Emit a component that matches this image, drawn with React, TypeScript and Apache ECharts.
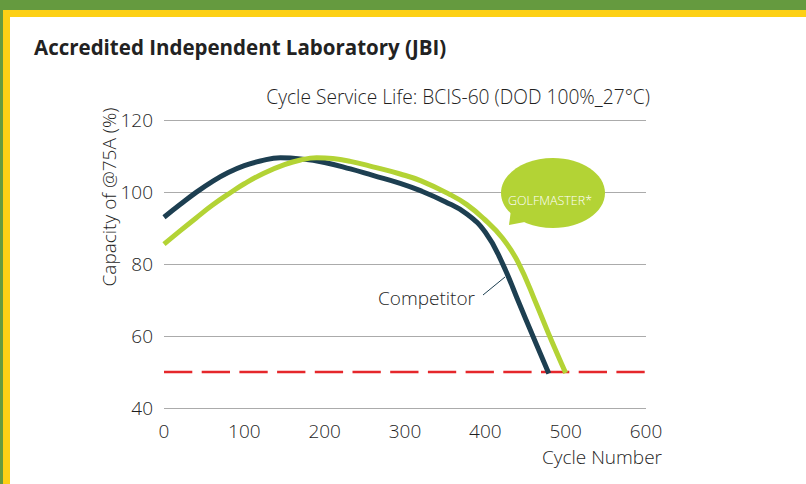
import React, { useEffect, useRef } from "react";
import * as echarts from "echarts";

const xTicks = [0, 100, 200, 300, 400, 500, 600];
const yTicks = [40, 60, 80, 100, 120];

const competitorX = [0, 20, 40, 60, 80, 100, 120, 145, 170, 200, 232, 260, 294, 320, 350, 377, 400, 420, 443, 458, 479];
const competitorY = [93, 96.5, 99.9, 102.9, 105.4, 107.3, 108.6, 109.5, 109.2, 108.2, 106.4, 104.6, 102.4, 100.3, 97.3, 93.9, 88.8, 80.8, 68.6, 60.6, 49.6];

const golfX = [0, 20, 40, 60, 84, 100, 125, 150, 170, 190, 210, 232, 260, 294, 320, 356, 377, 398, 421, 441, 464, 479, 500];
const golfY = [85.5, 89.2, 92.8, 96.3, 100, 102.3, 105.3, 107.6, 108.9, 109.5, 109.3, 108.5, 107, 105, 103.1, 99.3, 96.5, 92.6, 87.3, 80.4, 68.6, 60.5, 49.7];

const limitX = [0, 600];
const limitY = [50, 50];

const FONT = "Open Sans";
const LIGHT = 300;
const INK = "#1f1f1f";

export default function App() {
  const ref = useRef<HTMLDivElement>(null);
  useEffect(() => {
    if (!ref.current) return;
    const chart = echarts.init(ref.current, null, { renderer: "svg" });
    const zip = (xs: number[], ys: number[]) => xs.map((x, i) => [x, ys[i]]);
    const txt = (
      text: string,
      x: number,
      y: number,
      align: string,
      size: number,
      extra: any = {}
    ) => ({
      type: "text",
      x,
      y,
      rotation: extra.rotation || 0,
      style: {
        text,
        fontFamily: FONT,
        fontSize: size,
        fontWeight: extra.fontWeight || LIGHT,
        fill: extra.fill || INK,
        verticalAlign: "middle",
        align,
      },
    });
    chart.setOption({
      animation: false,
      backgroundColor: "#ffffff",
      grid: { left: 164, right: 160, top: 120, bottom: 76 },
      xAxis: {
        type: "value",
        min: 0,
        max: 600,
        interval: 100,
        axisLine: { show: false },
        axisTick: { show: false },
        splitLine: { show: false },
        axisLabel: {
          margin: 13,
          color: INK,
          fontFamily: FONT,
          fontSize: 19,
          fontWeight: LIGHT,
          formatter: (v: number) => (xTicks.includes(v) ? String(v) : ""),
        },
      },
      yAxis: {
        type: "value",
        min: 40,
        max: 120,
        interval: 20,
        axisLine: { show: false },
        axisTick: { show: false },
        splitLine: { show: true, lineStyle: { color: "#ABABAB", width: 1 } },
        axisLabel: {
          margin: 11,
          color: INK,
          fontFamily: FONT,
          fontSize: 19,
          fontWeight: LIGHT,
          formatter: (v: number) => (yTicks.includes(v) ? String(v) : ""),
        },
      },
      series: [
        {
          name: "Limit",
          type: "line",
          data: zip(limitX, limitY),
          symbol: "none",
          lineStyle: { color: "#E5272B", width: 2.5, type: [28.3, 9.4] },
          z: 1,
        },
        {
          name: "Competitor",
          type: "line",
          data: zip(competitorX, competitorY),
          symbol: "none",
          smooth: 0.45,
          lineStyle: { color: "#1D3F51", width: 5, cap: "butt" },
          z: 2,
        },
        {
          name: "GOLFMASTER*",
          type: "line",
          data: zip(golfX, golfY),
          symbol: "none",
          smooth: 0.45,
          lineStyle: { color: "#B3D335", width: 5, cap: "butt" },
          z: 3,
        },
      ],
      graphic: [
        { type: "rect", shape: { x: 0, y: 0, width: 806, height: 10 }, style: { fill: "#659A3F" }, z: 0 },
        { type: "rect", shape: { x: 0, y: 10, width: 3, height: 474 }, style: { fill: "#659A3F" }, z: 0 },
        { type: "rect", shape: { x: 3, y: 10, width: 803, height: 7 }, style: { fill: "#FDD015" }, z: 0 },
        { type: "rect", shape: { x: 3, y: 10, width: 7, height: 474 }, style: { fill: "#FDD015" }, z: 0 },
        txt("Accredited Independent Laboratory (JBI)", 34, 47, "left", 20.5, { fontWeight: "bold", fill: "#222" }),
        txt("Cycle Service Life: BCIS-60 (DOD 100%_27°C)", 650, 96, "right", 19.2),
        txt("Capacity of @75A (%)", 109, 197, "center", 19, { rotation: Math.PI / 2 }),
        txt("Cycle Number", 662, 457, "right", 19),
        txt("Competitor", 475, 298, "right", 19),
        {
          type: "line",
          shape: { x1: 483, y1: 295, x2: 505, y2: 277 },
          style: { stroke: "#1D3F51", lineWidth: 1 },
          z: 10,
        },
        {
          type: "polygon",
          shape: { points: [[509, 225], [511, 210], [530, 221]] },
          style: { fill: "#B3D335" },
          z: 10,
        },
        {
          type: "ellipse",
          shape: { cx: 553, cy: 193, rx: 52, ry: 35 },
          style: { fill: "#B3D335" },
          z: 10,
        },
        { ...txt("GOLFMASTER*", 550, 200, "center", 12.5, { fill: "#ffffff" }), z: 11 },
      ],
    });
    return () => chart.dispose();
  }, []);
  return (
    <div
      ref={ref}
      style={{ position: "fixed", left: 0, top: 0, width: 806, height: 484 }}
    />
  );
}
